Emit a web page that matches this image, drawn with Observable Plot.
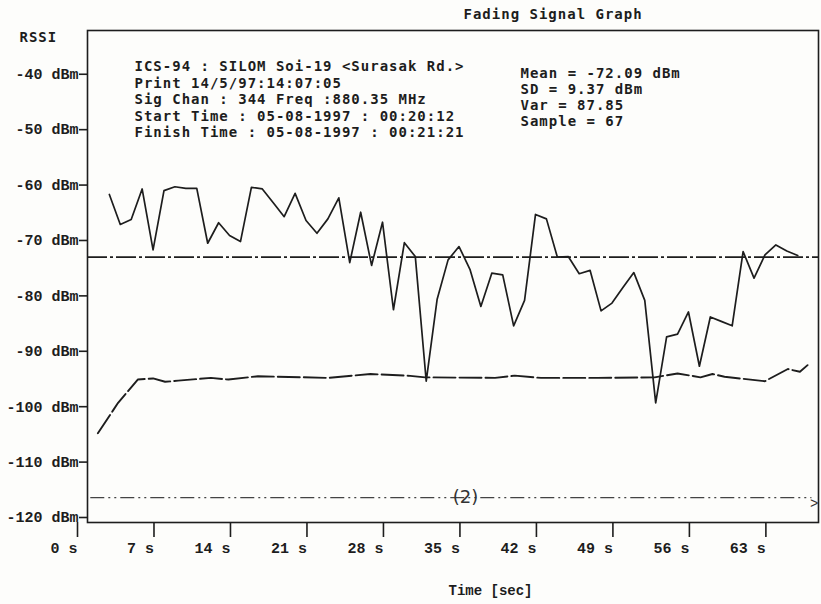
<!DOCTYPE html>
<html><head><meta charset="utf-8">
<script src="https://cdn.jsdelivr.net/npm/d3@7"></script>
<script src="https://cdn.jsdelivr.net/npm/@observablehq/plot@0.6"></script>
<style>
html,body{margin:0;padding:0;background:#fdfdfb;}
#chart svg{display:block;}
.head text{letter-spacing:1px;}
</style></head><body><div id="chart"></div>
<script>
const chartTitle = "Fading Signal Graph";
const yAxisTitle = "RSSI";
const xAxisTitle = "Time [sec]";
const infoLines = [
  "ICS-94 : SILOM Soi-19 <Surasak Rd.>",
  "Print 14/5/97:14:07:05",
  "Sig Chan : 344 Freq :880.35 MHz",
  "Start Time : 05-08-1997 : 00:20:12",
  "Finish Time : 05-08-1997 : 00:21:21"
];
const statLines = [
  "Mean = -72.09 dBm",
  "SD = 9.37 dBm",
  "Var = 87.85",
  "Sample = 67"
];
const meanRssi = -72.09;
const markerLevel = -115.5;
const markerLabel = "(2)";
const markerTime = 34.6;
const xTicks = [0, 7, 14, 21, 28, 35, 42, 49, 56, 63];
const yTicks = [-40, -50, -60, -70, -80, -90, -100, -110, -120];

const sampleTime = [2,3,4,5,6,7,8,9,10,11,12,13,14,15,16,17,18,19,20,21,22,23,24,25,26,27,28,29,30,31,32,33,34,35,36,37,38,39,40,41,42,43,44,45,46,47,48,49,50,51,52,53,54,55,56,57,58,59,60,61,62,63,64,65];
const sampleRssi = [-60.8,-66.2,-65.3,-59.8,-70.8,-60.1,-59.4,-59.7,-59.7,-69.6,-65.9,-68.2,-69.3,-59.5,-59.8,-62.3,-64.8,-60.6,-65.5,-67.8,-65.2,-61.4,-73.1,-64.0,-73.6,-65.8,-81.6,-69.5,-72.0,-94.5,-79.7,-72.6,-70.2,-74.3,-81.0,-75.0,-75.3,-84.5,-79.9,-64.4,-65.2,-72.1,-72.0,-75.1,-74.5,-81.8,-80.4,-77.6,-74.9,-79.9,-98.4,-86.5,-86.0,-82.0,-91.8,-82.9,-83.7,-84.5,-71.1,-75.9,-71.7,-69.9,-71.0,-71.8];

const floorTime = [0.95,2.8,4.6,6.0,7.1,8.3,11.3,12.9,15.6,22.0,25.9,29.3,30.9,37.3,39.1,41.5,46.7,51.9,54.0,56.1,57.2,58.3,62.0,64.1,65.2,65.9];
const floorRssi = [-103.9,-98.4,-94.2,-94.0,-94.6,-94.4,-93.9,-94.2,-93.6,-93.9,-93.2,-93.5,-93.8,-93.9,-93.5,-93.9,-93.9,-93.8,-93.1,-93.8,-93.2,-93.7,-94.5,-92.3,-92.8,-91.6];

const signal = sampleTime.map((t, i) => ({t, v: sampleRssi[i]}));
const floor = floorTime.map((t, i) => ({t, v: floorRssi[i]}));

const ink = "#1d1d1d";
const headFont = "'DejaVu Sans Mono', monospace";
const tickFont = "'Liberation Mono', monospace";

const plot = Plot.plot({
  width: 821,
  height: 604,
  marginLeft: 87,
  marginRight: 3,
  marginTop: 30,
  marginBottom: 82,
  style: {background: "transparent", color: ink, fontFamily: tickFont, fontSize: "15px", fontWeight: "bold", overflow: "visible"},
  x: {domain: [0, 66.9]},
  y: {domain: [-120, -31.2]},
  marks: [
    Plot.frame({stroke: ink, strokeWidth: 1.6}),
    Plot.axisY(yTicks, {tickSize: 8, tickPadding: 1, dy: -5, tickFormat: d => `${d} dBm`, strokeWidth: 1.6, label: null, fontSize: 15}),
    Plot.axisX(xTicks, {tickSize: 15, tickPadding: 5, textAnchor: "end", dx: -10, tickFormat: d => `${d} s`, strokeWidth: 1.6, label: null, fontSize: 15}),
    Plot.ruleY([meanRssi], {stroke: ink, strokeWidth: 1.8, strokeDasharray: "20,3,3,3"}),
    Plot.ruleY([markerLevel], {stroke: "#444", strokeWidth: 1.3, strokeDasharray: "14,4,2,4,2,4", x1: 0.3, x2: 66.3}),
    Plot.text([">"], {x: [66.5], y: [markerLevel - 1], text: d => d, fontFamily: tickFont, fontSize: 14, fontWeight: "normal", fill: "#333"}),
    Plot.text([markerLabel], {x: [markerTime], y: [markerLevel], text: d => d, fontFamily: "'DejaVu Sans', sans-serif", fontSize: 18, fontWeight: "normal", fill: "#333"}),
    Plot.line(floor, {x: "t", y: "v", stroke: ink, strokeWidth: 1.9, strokeDasharray: "22,4"}),
    Plot.line(signal, {x: "t", y: "v", stroke: ink, strokeWidth: 1.7}),
    Plot.text([chartTitle], {className: "head", frameAnchor: "top-left", dx: 376, dy: -16, text: d => d, textAnchor: "start", lineAnchor: "middle", fontFamily: headFont, fontSize: 14, fill: ink}),
    Plot.text([yAxisTitle], {className: "head", frameAnchor: "top-left", dx: -68, dy: 7, text: d => d, textAnchor: "start", lineAnchor: "middle", fontFamily: headFont, fontSize: 14, fill: ink}),
    Plot.text([infoLines.join("\n")], {className: "head", frameAnchor: "top-left", dx: 47, dy: 29, text: d => d, textAnchor: "start", lineAnchor: "top", lineHeight: 1.18, fontFamily: headFont, fontSize: 14, fill: ink}),
    Plot.text([statLines.join("\n")], {className: "head", frameAnchor: "top-left", dx: 433, dy: 36, text: d => d, textAnchor: "start", lineAnchor: "top", lineHeight: 1.15, fontFamily: headFont, fontSize: 14, fill: ink}),
    Plot.text([xAxisTitle], {frameAnchor: "bottom-left", dx: 361, dy: 68, text: d => d, textAnchor: "start", lineAnchor: "middle", fontFamily: tickFont, fontSize: 14, fill: ink})
  ]
});
document.getElementById("chart").appendChild(plot);
</script>
</body></html>
